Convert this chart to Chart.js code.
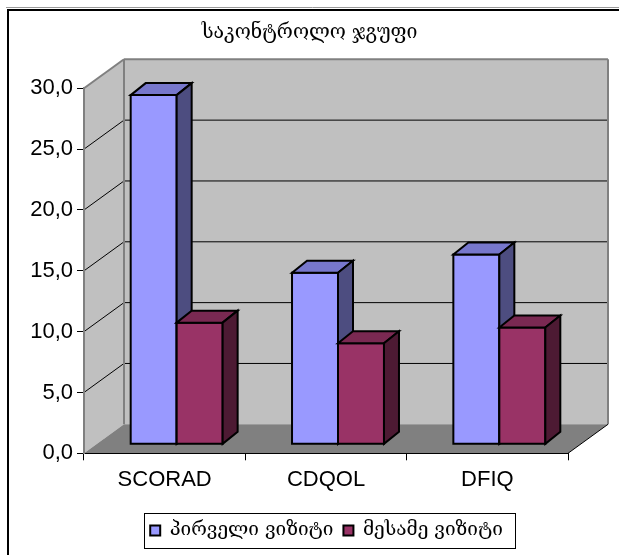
<!DOCTYPE html>
<html>
<head>
<meta charset="utf-8">
<script src="https://cdn.jsdelivr.net/npm/chart.js@4.4.1/dist/chart.umd.min.js"></script>
<style>
  html, body { margin: 0; padding: 0; background: #fff; }
  canvas { display: block; }
</style>
</head>
<body>
<canvas id="chart" width="619" height="555"></canvas>
<script>
// საშუალო ქულები ორ ვიზიტზე
const categories = ['SCORAD', 'CDQOL', 'DFIQ'];
const firstVisit = [28.7, 14.1, 15.6];
const thirdVisit = [10.0, 8.3, 9.6];
const seriesNames = ['პირველი ვიზიტი', 'მესამე ვიზიტი'];
const chartTitle = 'საკონტროლო ჯგუფი';
const yTicks = [0, 5, 10, 15, 20, 25, 30];

// ფერები: წინა წახნაგი, ზედა, გვერდითი
const BLUE = { front: '#9999ff', top: '#7777cc', side: '#4d4d80' };
const WINE = { front: '#993366', top: '#7a2952', side: '#4d1a33' };

// 3D სიღრმე (კედლები, სვეტის წანაცვლება და სისქე)
const WALL = { x: 40, y: -29 };
const BAR_OFF = { x: 12, y: -9 };
const BAR_DEPTH = { x: 15, y: -12 };
const LEGEND_SHIFT = 17;

const GEO_FONT = "'DejaVu Serif', 'DejaVu Sans', serif";
const LAT_FONT = "'Liberation Sans', Arial, sans-serif";

function poly(ctx, pts, fill, stroke, lw) {
  ctx.beginPath();
  ctx.moveTo(pts[0][0], pts[0][1]);
  for (let i = 1; i < pts.length; i++) ctx.lineTo(pts[i][0], pts[i][1]);
  ctx.closePath();
  if (fill) { ctx.fillStyle = fill; ctx.fill(); }
  if (stroke) { ctx.strokeStyle = stroke; ctx.lineWidth = lw || 1; ctx.stroke(); }
}

function line(ctx, x1, y1, x2, y2, color, lw) {
  ctx.beginPath();
  ctx.moveTo(x1, y1);
  ctx.lineTo(x2, y2);
  ctx.strokeStyle = color;
  ctx.lineWidth = lw || 1;
  ctx.stroke();
}

// ფონი, ჩარჩო, კედლები და იატაკი
const walls3d = {
  id: 'walls3d',
  beforeDraw(chart) {
    const { ctx, chartArea: a } = chart;
    const yScale = chart.scales.y;
    ctx.save();
    ctx.fillStyle = '#fff';
    ctx.fillRect(0, 0, chart.width, chart.height);

    // გარე ჩარჩო
    line(ctx, 6, 7.5, chart.width, 7.5, '#999', 1);
    line(ctx, 7, 10, chart.width, 10, '#000', 2);
    line(ctx, 8, 10, 8, chart.height, '#000', 2);

    const L = a.left, R = a.right, T = a.top, B = a.bottom;
    const dx = WALL.x, dy = WALL.y;

    // გვერდითი კედელი
    poly(ctx, [[L, T], [L + dx, T + dy], [L + dx, B + dy], [L, B]], '#c0c0c0');
    // უკანა კედელი
    poly(ctx, [[L + dx, T + dy], [R + dx, T + dy], [R + dx, B + dy], [L + dx, B + dy]], '#c0c0c0');
    // იატაკი
    poly(ctx, [[L, B], [R, B], [R + dx, B + dy], [L + dx, B + dy]], '#808080');

    // ბადის ხაზები
    yTicks.forEach(v => {
      if (v === yTicks[0] || v === yTicks[yTicks.length - 1]) return;
      const py = yScale.getPixelForValue(v);
      line(ctx, L, py, L + dx, py + dy, '#000', 1);
      line(ctx, L + dx, py + dy, R + dx, py + dy, '#000', 1);
    });

    // კედლების კიდეები
    line(ctx, L, T, L + dx, T + dy, '#808080', 2);
    line(ctx, L + dx, T + dy, R + dx, T + dy, '#808080', 2);
    line(ctx, R + dx, T + dy, R + dx, B + dy, '#808080', 2);
    line(ctx, L + dx, T + dy, L + dx, B + dy, '#808080', 2);
    line(ctx, R, B, R + dx, B + dy, '#000', 1);
    ctx.restore();
  }
};

// სვეტები პარალელეპიპედებად
const bars3d = {
  id: 'bars3d',
  beforeDatasetsDraw(chart) {
    const ctx = chart.ctx;
    ctx.save();
    ctx.lineJoin = 'miter';
    categories.forEach((_, i) => {
      chart.data.datasets.forEach((ds, di) => {
        const el = chart.getDatasetMeta(di).data[i];
        const { x, y, base, width } = el.getProps(['x', 'y', 'base', 'width'], true);
        const c = ds.shades;
        const l = x - width / 2 + BAR_OFF.x, r = x + width / 2 + BAR_OFF.x;
        const t = y + BAR_OFF.y, b = base + BAR_OFF.y;
        const ex = BAR_DEPTH.x, ey = BAR_DEPTH.y;
        poly(ctx, [[l, t], [r, t], [r, b], [l, b]], c.front, '#000', 2);
        poly(ctx, [[l, t], [l + ex, t + ey], [r + ex, t + ey], [r, t]], c.top, '#000', 2);
        poly(ctx, [[r, t], [r + ex, t + ey], [r + ex, b + ey], [r, b]], c.side, '#000', 2);
      });
    });
    ctx.restore();
    return false;
  }
};

// ლეგენდა ოდნავ მარჯვნივ და ჩარჩოში
const legendFrame = {
  id: 'legendFrame',
  afterLayout(chart) {
    const lg = chart.legend;
    lg.left += LEGEND_SHIFT;
    lg.right += LEGEND_SHIFT;
  },
  afterDraw(chart) {
    const hb = chart.legend.legendHitBoxes;
    if (!hb || !hb.length) return;
    const last = hb[hb.length - 1];
    const cy = hb[0].top + hb[0].height / 2;
    const ctx = chart.ctx;
    ctx.save();
    ctx.strokeStyle = '#000';
    ctx.lineWidth = 1;
    const x0 = Math.round(hb[0].left - 6) + 0.5;
    const x1 = Math.round(last.left + last.width + 12) + 0.5;
    ctx.strokeRect(x0, Math.round(cy - 17.5) + 0.5, x1 - x0, 35);
    ctx.restore();
  }
};

new Chart(document.getElementById('chart'), {
  type: 'bar',
  data: {
    labels: categories,
    datasets: [
      { label: seriesNames[0], data: firstVisit, backgroundColor: BLUE.front, borderColor: '#000', borderWidth: 2, shades: BLUE },
      { label: seriesNames[1], data: thirdVisit, backgroundColor: WINE.front, borderColor: '#000', borderWidth: 2, shades: WINE }
    ]
  },
  options: {
    responsive: false,
    animation: false,
    layout: { padding: { left: 0, right: 0, top: 0, bottom: 5 } },
    datasets: { bar: { barPercentage: 1, categoryPercentage: 0.57 } },
    scales: {
      x: {
        afterFit(s) { s.height = 57.7; },
        ticks: { color: '#000', padding: 6, font: { family: LAT_FONT, size: 22 } },
        grid: { drawOnChartArea: false, tickLength: 7, color: '#000', offset: true },
        border: { color: '#000', width: 1 }
      },
      y: {
        min: 0,
        max: 30,
        afterFit(s) { s.width = 84; },
        afterBuildTicks(s) { s.ticks = yTicks.map(v => ({ value: v })); },
        ticks: {
          color: '#000',
          padding: 4,
          font: { family: LAT_FONT, size: 22 },
          callback: v => v.toFixed(1).replace('.', ',')
        },
        grid: { drawOnChartArea: false, tickLength: 7, color: '#000' },
        border: { color: '#808080', width: 2 }
      },
      // ცარიელი ზოლი მარჯვნივ
      gap: {
        type: 'linear',
        position: 'right',
        afterFit(s) { s.width = 51; },
        ticks: { display: false },
        grid: { display: false },
        border: { display: false }
      }
    },
    plugins: {
      title: {
        display: true,
        text: chartTitle,
        color: '#000',
        font: { family: GEO_FONT, size: 19.5, weight: 'normal' },
        padding: { top: 21, bottom: 43.9 }
      },
      legend: {
        position: 'bottom',
        labels: {
          color: '#000',
          boxWidth: 10,
          boxHeight: 10,
          padding: 10,
          font: { family: GEO_FONT, size: 19 }
        }
      },
      tooltip: { enabled: false }
    }
  },
  plugins: [walls3d, bars3d, legendFrame]
});
</script>
</body>
</html>
